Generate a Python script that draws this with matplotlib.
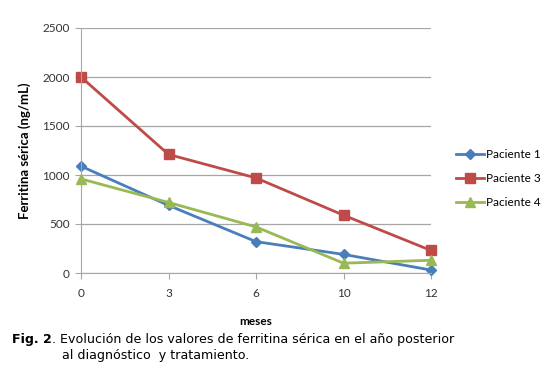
import matplotlib
matplotlib.use('Agg')
import matplotlib.pyplot as plt

meses = ['0', '3', '6', '10', '12']
paciente_1 = [1090, 690, 320, 190, 30]
paciente_3 = [2000, 1210, 970, 590, 230]
paciente_4 = [960, 720, 470, 100, 130]
y_ticks = [0, 500, 1000, 1500, 2000, 2500]

plt.rcParams['font.family'] = ['Lato', 'DejaVu Sans']

fig = plt.figure(figsize=(5.5, 3.73), dpi=100)
ax = fig.add_axes([81/550, 1 - 273/373, 350/550, 245/373])

x = list(range(len(meses)))
ax.plot(x, paciente_1, color='#4A7EBB', marker='D', markersize=5, lw=2, label='Paciente 1', clip_on=False)
ax.plot(x, paciente_3, color='#BE4B48', marker='s', markersize=7, lw=2, label='Paciente 3', clip_on=False)
ax.plot(x, paciente_4, color='#98B954', marker='^', markersize=7, lw=2, label='Paciente 4', clip_on=False)

ax.set_xlim(0, len(meses) - 1)
ax.set_ylim(0, 2500)
ax.set_yticks(y_ticks)
ax.set_xticks(x)
ax.set_xticklabels(meses)
ax.yaxis.grid(True, color='#A6A6A6', lw=0.9)
ax.set_axisbelow(True)
for s in ['top', 'right']:
    ax.spines[s].set_visible(False)
ax.spines['left'].set_color('#A6A6A6')
ax.spines['bottom'].set_color('#A6A6A6')
ax.tick_params(axis='y', length=4, color='#A6A6A6', labelsize=8.5, labelcolor='#333333', pad=4)
ax.tick_params(axis='x', length=4, color='#A6A6A6', labelsize=8.5, labelcolor='#333333', pad=7)

ax.set_ylabel('Ferritina sérica (ng/mL)', fontsize=9.5, fontweight='bold', labelpad=8)
ax.set_xlabel('meses', fontsize=8.5, fontweight='bold', labelpad=12)

ax.legend(loc='upper left', bbox_to_anchor=(1.04, 0.55), frameon=False, fontsize=8.5,
          handlelength=2.4, labelspacing=1.1, handletextpad=0.2)

# pie de figura
t = fig.text(12/550, 1 - 340/373, 'Fig. 2', fontsize=9.1, fontweight='bold',
             family='DejaVu Sans', va='center')
fig.canvas.draw()
bb = t.get_window_extent()
fig.text(bb.x1 / fig.bbox.width, 1 - 340/373,
         '. Evolución de los valores de ferritina sérica en el año posterior',
         fontsize=9.1, family='DejaVu Sans', va='center')
fig.text(62/550, 1 - 356/373, 'al diagnóstico  y tratamiento.', fontsize=9.1,
         family='DejaVu Sans', va='center')

fig.savefig('out.png', dpi=100, facecolor='white')
